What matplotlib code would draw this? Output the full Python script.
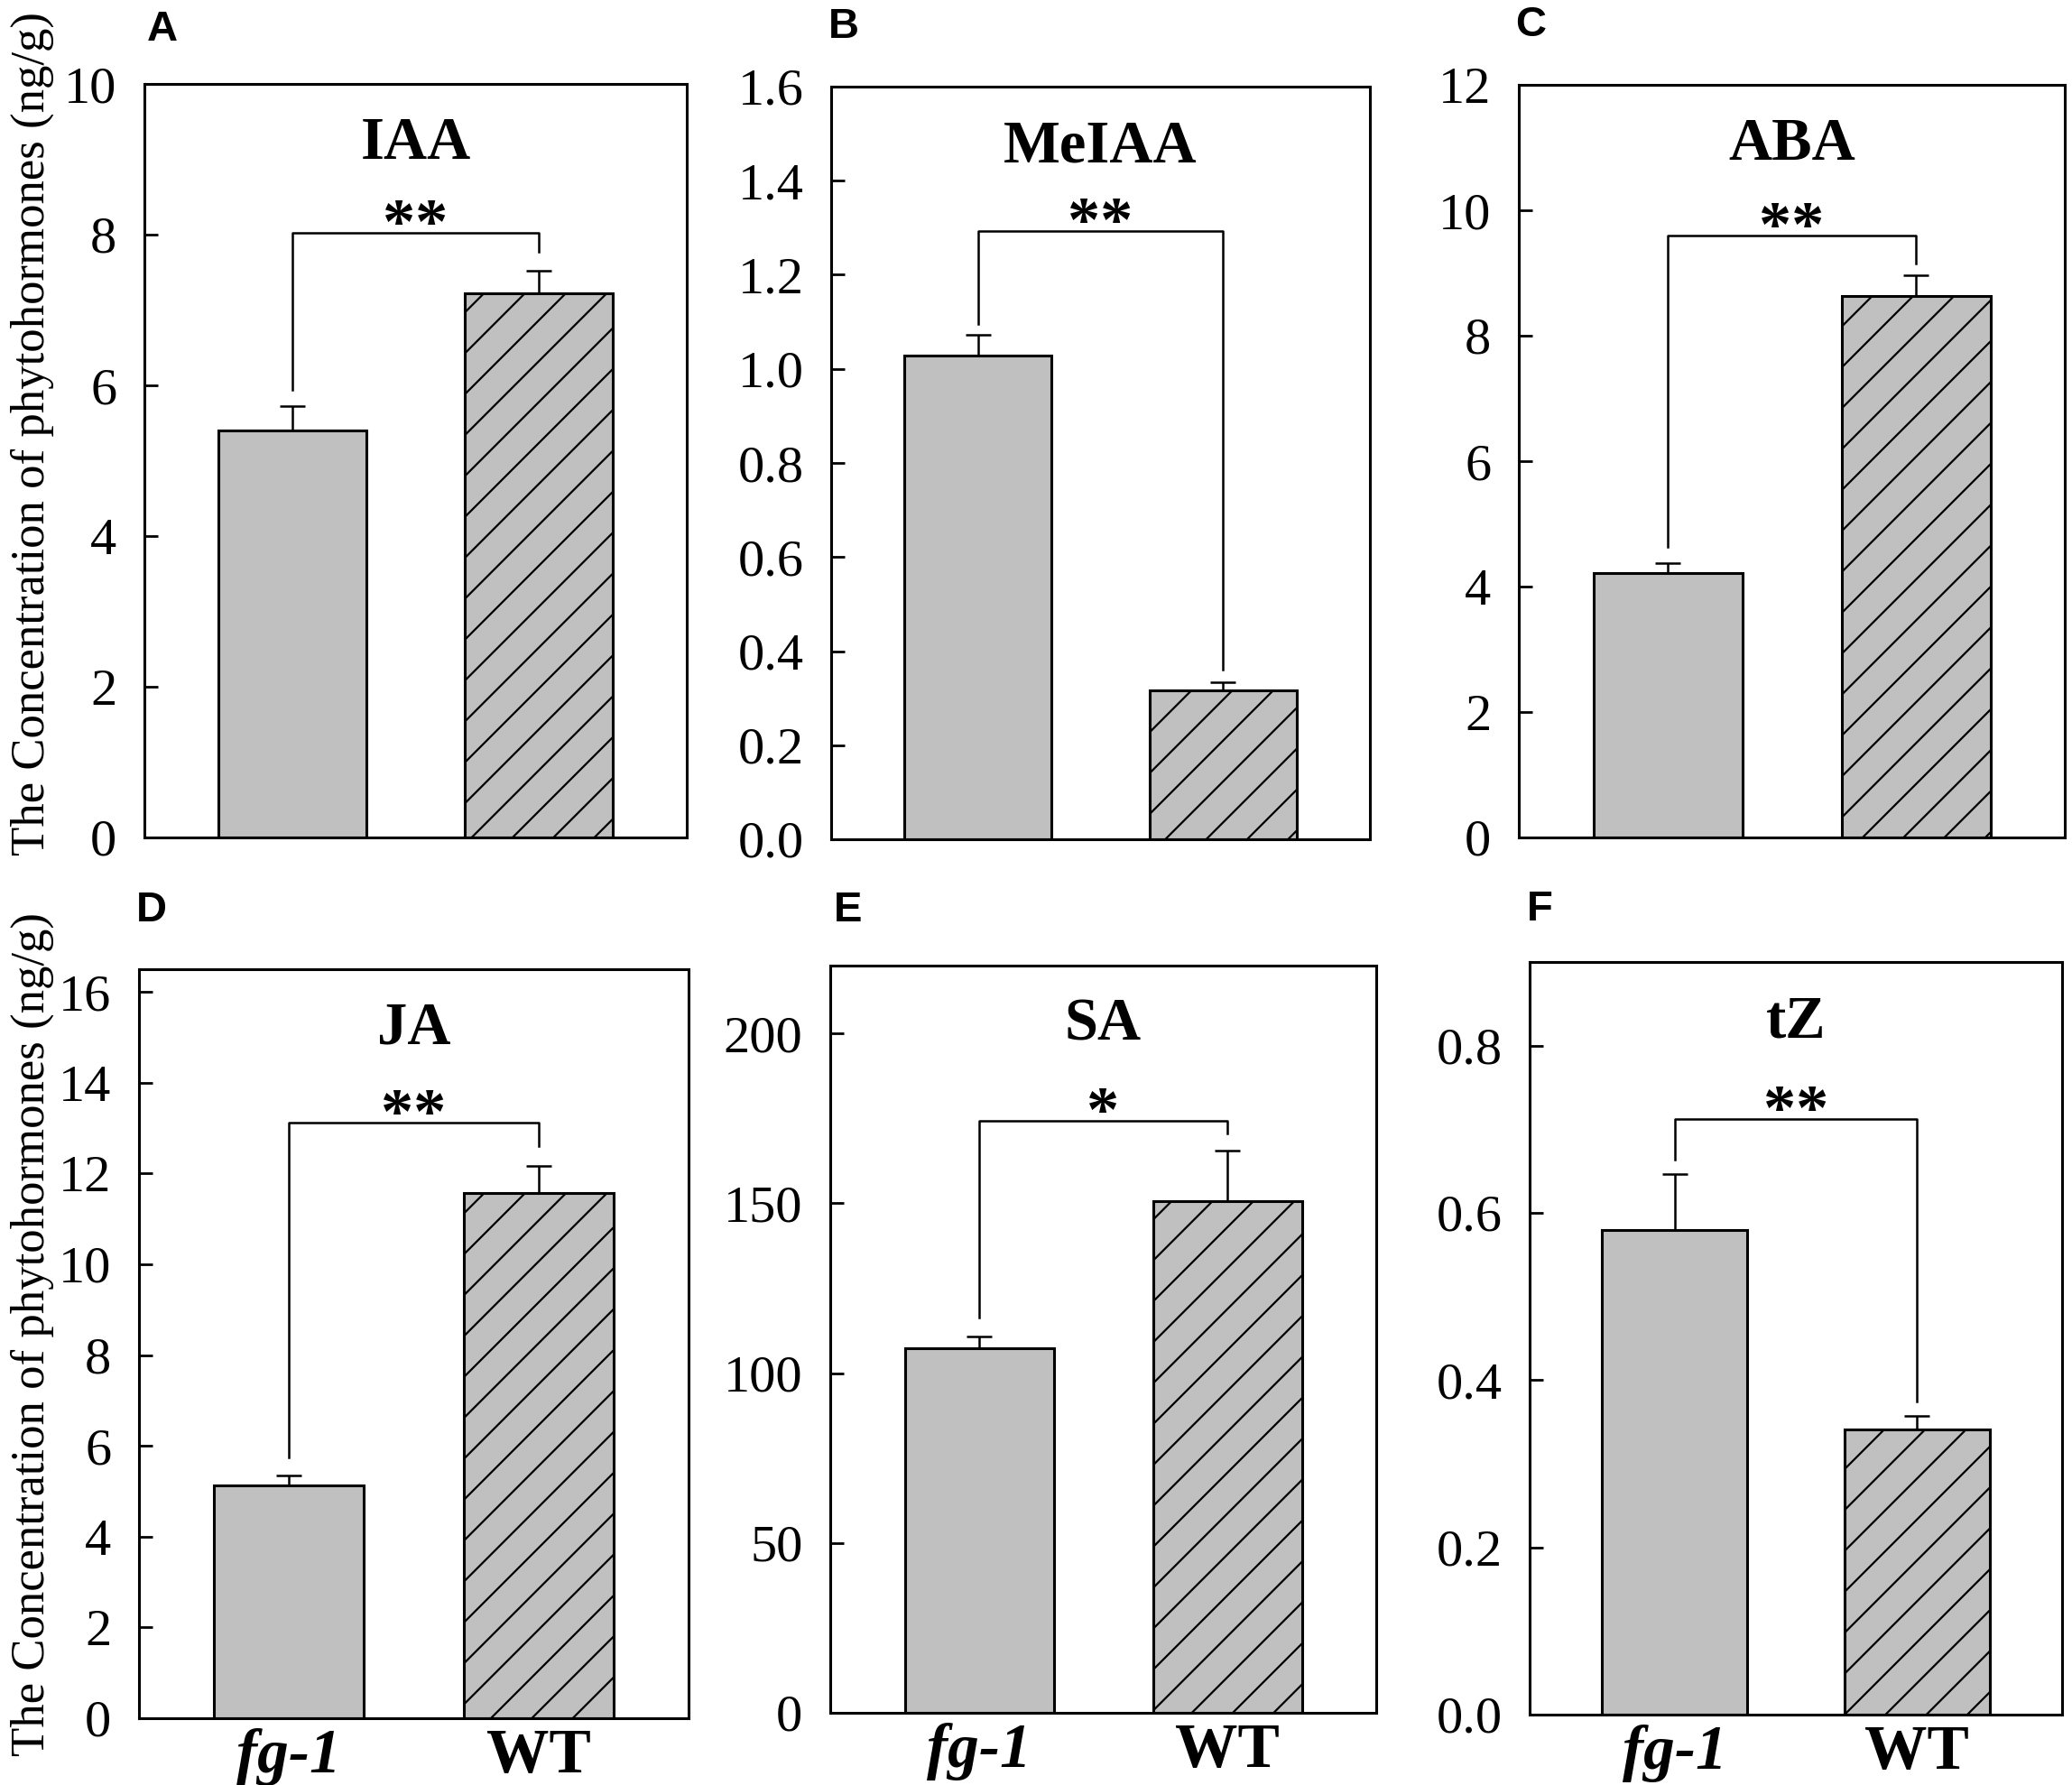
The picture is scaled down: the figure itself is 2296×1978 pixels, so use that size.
import matplotlib.pyplot as plt
from matplotlib.ticker import FormatStrFormatter, MultipleLocator

DPI = 136
k = 200 / DPI  # sizes below were tuned at dpi 200

plt.rcParams['font.family'] = ['Liberation Serif', 'DejaVu Serif']
plt.rcParams['hatch.linewidth'] = 0.8 * k
plt.rcParams['hatch.color'] = 'black'

# values
letters = ['A', 'B', 'C', 'D', 'E', 'F']
hormones = ['IAA', 'MeIAA', 'ABA', 'JA', 'SA', 'tZ']
genotypes = ['fg-1', 'WT']
fg1_mean = [5.40, 1.028, 4.21, 5.13, 107.4, 0.579]
fg1_err = [0.32, 0.045, 0.16, 0.21, 3.4, 0.067]
wt_mean = [7.22, 0.317, 8.64, 11.57, 150.6, 0.341]
wt_err = [0.30, 0.017, 0.32, 0.59, 15.0, 0.016]
signif = ['**', '**', '**', '**', '*', '**']
bracket_top = [8.02, 1.293, 9.6, 13.13, 174.2, 0.712]
leg_fg1 = [5.94, 1.096, 4.63, 5.75, 116.5, 0.664]
leg_wt = [7.77, 0.361, 9.15, 12.6, 170.5, 0.374]
y_max = [10, 1.6, 12, 16.5, 220, 0.9]
y_step = [2, 0.2, 2, 2, 50, 0.2]
y_fmt = ['%d', '%.1f', '%d', '%d', '%d', '%.1f']

W, H = 2296, 1978
fig = plt.figure(figsize=(W / DPI, H / DPI), dpi=DPI)

# axes boxes in pixels: left, top, right, bottom
boxes = [(160, 93, 761, 928), (921, 96, 1518, 930), (1683, 94, 2288, 928),
         (154, 1074, 763, 1904), (920, 1070, 1525, 1898), (1695, 1066, 2285, 1900)]
letter_pos = [(163, 33), (918, 30), (1679, 28), (151, 1009), (924, 1009), (1692, 1008)]

for i in range(6):
    l, t, r, b = boxes[i]
    ax = fig.add_axes([l / W, 1 - b / H, (r - l) / W, (b - t) / H])
    ax.bar(0, fg1_mean[i], width=0.6, color='#c0c0c0', edgecolor='black', linewidth=1.1 * k, zorder=2)
    ax.bar(1, wt_mean[i], width=0.6, color='#c0c0c0', edgecolor='black', linewidth=1.1 * k,
           hatch='/', zorder=2)
    ax.errorbar([0, 1], [fg1_mean[i], wt_mean[i]], yerr=[[0, 0], [fg1_err[i], wt_err[i]]],
                fmt='none', ecolor='black', elinewidth=0.9 * k, capsize=5 * k,
                capthick=0.9 * k, zorder=3)
    ax.plot([0, 0, 1, 1], [leg_fg1[i], bracket_top[i], bracket_top[i], leg_wt[i]],
            color='black', lw=0.9 * k, zorder=3)
    ax.annotate(signif[i], xy=(0.5, bracket_top[i]), xytext=(0, -4 * k), textcoords='offset points',
                ha='center', va='baseline', fontsize=26 * k, fontweight='bold')
    ax.text(0.5, 0.92, hormones[i], transform=ax.transAxes, ha='center', va='center',
            fontsize=24 * k, fontweight='bold')

    ax.set_xlim(-0.6, 1.6)
    ax.set_ylim(0, y_max[i])
    ax.yaxis.set_major_locator(MultipleLocator(y_step[i]))
    ax.yaxis.set_major_formatter(FormatStrFormatter(y_fmt[i]))
    ax.tick_params(axis='y', direction='in', length=5.5 * k, width=1.0 * k, pad=11 * k,
                   labelsize=21 * k)
    for sp in ax.spines.values():
        sp.set_linewidth(1.1 * k)

    if i >= 3:
        ax.set_xticks([0, 1])
        ax.set_xticklabels(genotypes, fontsize=25 * k, fontweight='bold')
        ax.get_xticklabels()[0].set_fontstyle('italic')
        ax.tick_params(axis='x', length=0, pad=4 * k)
    else:
        ax.set_xticks([])

    lx, ly = letter_pos[i]
    fig.text(lx / W, 1 - ly / H, letters[i], ha='left', va='center', fontsize=17 * k,
             fontweight='bold', family='Liberation Sans')

ylab = 'The Concentration of phytohormones (ng/g)'
fig.text(36 / W, 1 - 480 / H, ylab, rotation=90, ha='center', va='center', fontsize=19 * k)
fig.text(36 / W, 1 - 1478 / H, ylab, rotation=90, ha='center', va='center', fontsize=19 * k)

fig.savefig('out.png', dpi=DPI)
